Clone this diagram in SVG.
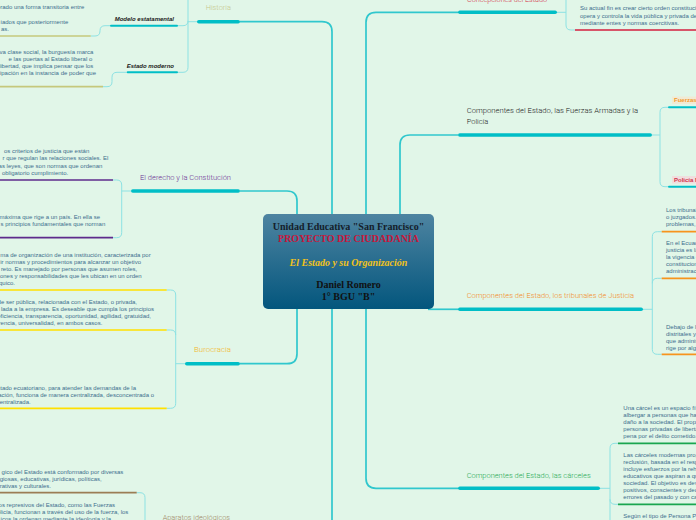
<svg xmlns="http://www.w3.org/2000/svg" width="696" height="520" viewBox="0 0 696 520">
<defs>
<linearGradient id="cg" x1="0" y1="0" x2="0" y2="1">
<stop offset="0" stop-color="#4e84a1"/>
<stop offset="1" stop-color="#03567d"/>
</linearGradient>
<style>
.leaf{font-family:"Liberation Sans",Arial,sans-serif;font-size:6px;fill:#3d6e8e}
.le{text-anchor:end}
.lbl{font-family:Roboto,"Noto Sans",sans-serif;font-size:7.5px;font-weight:300}
.lbr{text-anchor:end}
.sub{font-family:"Liberation Sans",Arial,sans-serif;font-size:6px;font-weight:bold;font-style:italic;fill:#222;text-anchor:end}
.sub2{font-family:"Liberation Sans",Arial,sans-serif;font-size:6px;font-weight:bold}
.bar{fill:none;stroke:#00bec6;stroke-width:3.6;stroke-linecap:round}
.sbar{fill:none;stroke:#00bec6;stroke-width:2;stroke-linecap:round}
.conn{fill:none;stroke:#30c7cd;stroke-width:1.7}
.lc{fill:none;stroke:#8de2e3;stroke-width:1}
.lb{fill:none;stroke-width:1.7}
.ctr{font-family:"Liberation Serif","Times New Roman",serif;font-size:10px;font-weight:bold;text-anchor:middle}
</style>
</defs>
<rect width="696" height="520" fill="#e1f6e8"/>

<g id="connectors">
<path class="conn" d="M332,214 V31.7 Q332,21.7 322,21.7 H240"/>
<path class="conn" d="M297,214 V201 Q297,191 287,191 H240"/>
<path class="conn" d="M297,309 V353.7 Q297,363.7 287,363.7 H240"/>
<path class="conn" d="M332,309 V525"/>
<path class="conn" d="M366,214 V22.3 Q366,12.3 376,12.3 H458"/>
<path class="conn" d="M400,214 V145 Q400,135 410,135 H458"/>
<path class="conn" d="M428,309.3 H458"/>
<path class="conn" d="M366,309 V478.3 Q366,488.3 376,488.3 H458"/>

<path class="lc" d="M197,21.7 H188 M188,-5 V67.3 Q188,72.3 183,72.3 H178 M178,25.7 H183 Q188,25.7 188,20.7"/>
<path class="lc" d="M110,25.7 H105 Q100,25.7 100,30.7 V31 Q100,36 95,36 H90.7"/>
<path class="lc" d="M126.7,72.3 H117 Q112,72.3 112,77.3 V81.7 Q112,86.7 107,86.7 H103"/>
<path class="lc" d="M131,191 H121.7 M113,180 H116.7 Q121.7,180 121.7,185 V232.7 Q121.7,237.7 116.7,237.7 H113"/>
<path class="lc" d="M185,363.7 H175.7 M166.7,290 H170.7 Q175.7,290 175.7,295 V403.3 Q175.7,408.3 170.7,408.3 H166.7 M166.7,330 H170.7 Q175.7,330 175.7,335"/>
<path class="lc" d="M136.7,492.7 H140 Q145,492.7 145,497.7 V525"/>
<path class="lc" d="M557,12.3 H566 M566,-5 V25 Q566,30 571,30 H575"/>
<path class="lc" d="M652,135 H660 M668,107.3 H665 Q660,107.3 660,112.3 V181.7 Q660,186.7 665,186.7 H668"/>
<path class="lc" d="M643,309.3 H652.3 M661.7,231.7 H657.3 Q652.3,231.7 652.3,236.7 V349.3 Q652.3,354.3 657.3,354.3 H661.7 M661.7,278.3 H657.3 Q652.3,278.3 652.3,283.3"/>
<path class="lc" d="M600,488.3 H610 M618,443.3 H615 Q610,443.3 610,448.3 V525 M618,504.3 H615 Q610,504.3 610,499.3"/>
</g>

<g id="central">
<rect x="263" y="214" width="171" height="95" rx="5" fill="url(#cg)"/>
<text class="ctr" x="348.5" y="229.5" fill="#15202a">Unidad Educativa "San Francisco"</text>
<text class="ctr" x="348.5" y="242" fill="#c8163a">PROYECTO DE CIUDADANÍA</text>
<text class="ctr" x="348.5" y="265.5" fill="#f2c21c" font-style="italic">El Estado y su Organización</text>
<text class="ctr" x="348.5" y="288" fill="#111">Daniel Romero</text>
<text class="ctr" x="348.5" y="300" fill="#111">1° BGU "B"</text>
</g>

<g id="historia">
<text class="lbl lbr" x="231" y="9.8" fill="#c6c88a" textLength="25.3" lengthAdjust="spacingAndGlyphs">Historia</text>
<path class="bar" d="M198.8,21.7 H238.2"/>
</g>
<g id="modelo-estatamental">
<text class="sub" x="174" y="21">Modelo estatamental</text>
<path class="sbar" d="M111,25.7 H177"/>
</g>
<g id="leaf-modelo">
<path class="lb" stroke="#c5c87c" d="M-2,36 H90.7"/>
<text class="leaf le" x="84.3" y="9.3">erado una forma transitoria entre</text>
<text class="leaf le" x="68.3" y="24.3">iados que posteriormente</text>
<text class="leaf le" x="9" y="31">as.</text>
</g>
<g id="estado-moderno">
<text class="sub" x="174" y="67.7">Estado moderno</text>
<path class="sbar" d="M127.7,72.3 H177"/>
</g>
<g id="leaf-estado-moderno">
<path class="lb" stroke="#c5c87c" d="M-2,86.7 H103"/>
<text class="leaf le" x="93.3" y="54.3">va clase social, la burguesía marca</text>
<text class="leaf le" x="92.3" y="61.3">e las puertas al Estado liberal o</text>
<text class="leaf le" x="93.3" y="68.3">libertad, que implica pensar que los</text>
<text class="leaf le" x="96" y="75">ipación en la instancia de poder que</text>
</g>

<g id="derecho">
<text class="lbl lbr" x="231" y="180.2" fill="#6b2f94" textLength="91" lengthAdjust="spacingAndGlyphs">El derecho y la Constitución</text>
<path class="bar" d="M132.8,191 H238.2"/>
</g>
<g id="leaf-derecho-1">
<path class="lb" stroke="#5e2b8c" d="M-2,180 H113"/>
<text class="leaf le" x="89.3" y="153">os criterios de justicia que están</text>
<text class="leaf le" x="108.3" y="160.3">r que regulan las relaciones sociales. El</text>
<text class="leaf le" x="102.3" y="167.7">as leyes, que son normas que ordenan</text>
<text class="leaf le" x="68.3" y="175">obligatorio cumplimiento.</text>
</g>
<g id="leaf-derecho-2">
<path class="lb" stroke="#5e2b8c" d="M-2,237.7 H113"/>
<text class="leaf le" x="100" y="219.3">máxima que rige a un país. En ella se</text>
<text class="leaf le" x="105.3" y="226.3">s principios fundamentales que norman</text>
</g>

<g id="burocracia">
<text class="lbl lbr" x="231" y="351.5" fill="#f3b41a" textLength="37" lengthAdjust="spacingAndGlyphs">Burocracia</text>
<path class="bar" d="M186.8,363.7 H238.2"/>
</g>
<g id="leaf-burocracia-1">
<path class="lb" stroke="#ffe000" d="M-2,290 H166.7"/>
<text class="leaf le" x="150.7" y="257.3">ma de organización de una institución, caracterizada por</text>
<text class="leaf le" x="141" y="264.3">ir normas y procedimientos para alcanzar un objetivo</text>
<text class="leaf le" x="137.3" y="271.3">reto. Es manejado por personas que asumen roles,</text>
<text class="leaf le" x="141.7" y="278.3">ones y responsabilidades que les ubican en un orden</text>
<text class="leaf le" x="15" y="285.3">quico.</text>
</g>
<g id="leaf-burocracia-2">
<path class="lb" stroke="#ffe000" d="M-2,330 H166.7"/>
<text class="leaf le" x="137" y="304.3">de ser pública, relacionada con el Estado, o privada,</text>
<text class="leaf le" x="154" y="311.3">lada a la empresa. Es deseable que cumpla los principios</text>
<text class="leaf le" x="151" y="318.3">eficiencia, transparencia, oportunidad, agilidad, gratuidad,</text>
<text class="leaf le" x="102.3" y="325.3">rencia, universalidad, en ambos casos.</text>
</g>
<g id="leaf-burocracia-3">
<path class="lb" stroke="#ffe000" d="M-2,408.3 H166.7"/>
<text class="leaf le" x="136" y="389.7">stado ecuatoriano, para atender las demandas de la</text>
<text class="leaf le" x="154" y="397">ación, funciona de manera centralizada, desconcentrada o</text>
<text class="leaf le" x="30.7" y="404">entralizada.</text>
</g>

<g id="aparatos">
<text class="lbl lbr" x="230" y="519.5" fill="#a08562" textLength="67.3" lengthAdjust="spacingAndGlyphs">Aparatos ideológicos</text>
</g>
<g id="leaf-aparatos-1">
<path class="lb" stroke="#9b7d55" d="M-2,492.7 H136.7"/>
<text class="leaf le" x="123.3" y="474.3">gico del Estado está conformado por diversas</text>
<text class="leaf le" x="101.7" y="481.3">giosas, educativas, jurídicas, políticas,</text>
<text class="leaf le" x="51" y="488.3">rativas y culturales.</text>
</g>
<g id="leaf-aparatos-2">
<text class="leaf le" x="115" y="507">aratos represivos del Estado, como las Fuerzas</text>
<text class="leaf le" x="128.3" y="514">olicía, funcionan a través del uso de la fuerza, los</text>
<text class="leaf le" x="111" y="521">icos la ordenan mediante la ideología y la</text>
</g>

<g id="concepciones">
<text class="lbl" x="467" y="1.5" fill="#d42a45" textLength="80" lengthAdjust="spacingAndGlyphs">Concepciones del Estado</text>
<path class="bar" d="M459.8,12.3 H555.2"/>
</g>
<g id="leaf-concepciones">
<path class="lb" stroke="#d31f3f" d="M575,30 H700"/>
<text class="leaf" x="580" y="10.3">Su actual fin es crear cierto orden constitucional</text>
<text class="leaf" x="580" y="17.7">opera y controla la vida pública y privada de</text>
<text class="leaf" x="580" y="25.3">mediante entes y normas coercitivas.</text>
</g>

<g id="fuerzas-policia">
<text class="lbl" x="466.7" y="112.5" fill="#222" textLength="171.3" lengthAdjust="spacingAndGlyphs">Componentes del Estado, las Fuerzas Armadas y la</text>
<text class="lbl" x="466.7" y="124.2" fill="#222" textLength="21.6" lengthAdjust="spacingAndGlyphs">Policía</text>
<path class="bar" d="M459.8,135 H650.2"/>
</g>
<g id="fuerzas-armadas">
<rect x="672" y="96.5" width="26" height="7.5" fill="#f1ead4"/>
<text class="sub2" x="674" y="102.2" fill="#f39a2e">Fuerzas Armadas</text>
<path class="sbar" d="M669,107.3 H700"/>
</g>
<g id="policia-nacional">
<rect x="672" y="176" width="26" height="7.5" fill="#f0dede"/>
<text class="sub2" x="674" y="181.6" fill="#d2334d">Policía Nacional</text>
<path class="sbar" d="M669,186.7 H700"/>
</g>

<g id="tribunales">
<text class="lbl" x="466.7" y="297.8" fill="#f38b1f" textLength="167.3" lengthAdjust="spacingAndGlyphs">Componentes del Estado, los tribunales de Justicia</text>
<path class="bar" d="M459.8,309.3 H641.2"/>
</g>
<g id="leaf-tribunales-1">
<path class="lb" stroke="#f7941d" d="M661.7,231.7 H700"/>
<text class="leaf" x="666" y="212">Los tribunales</text>
<text class="leaf" x="666" y="219">o juzgados.</text>
<text class="leaf" x="666" y="226">problemas,</text>
</g>
<g id="leaf-tribunales-2">
<path class="lb" stroke="#f7941d" d="M661.7,278.3 H700"/>
<text class="leaf" x="666" y="244.7">En el Ecuador</text>
<text class="leaf" x="666" y="252">justicia es la</text>
<text class="leaf" x="666" y="259">la vigencia de</text>
<text class="leaf" x="666" y="266">constitucionales</text>
<text class="leaf" x="666" y="273">administración</text>
</g>
<g id="leaf-tribunales-3">
<path class="lb" stroke="#f7941d" d="M661.7,354.3 H700"/>
<text class="leaf" x="666" y="328.7">Debajo de la</text>
<text class="leaf" x="666" y="336">distritales y</text>
<text class="leaf" x="666" y="343">que administran</text>
<text class="leaf" x="666" y="350">rige por alguna</text>
</g>

<g id="carceles">
<text class="lbl" x="466.7" y="477.5" fill="#1ea851" textLength="124" lengthAdjust="spacingAndGlyphs">Componentes del Estado, las cárceles</text>
<path class="bar" d="M459.8,488.3 H598.2"/>
</g>
<g id="leaf-carceles-1">
<path class="lb" stroke="#1aa650" d="M618,443.3 H700"/>
<text class="leaf" x="623.3" y="410.3">Una cárcel es un espacio físico</text>
<text class="leaf" x="623.3" y="417.3">albergar a personas que han</text>
<text class="leaf" x="623.3" y="424.3">daño a la sociedad. El propósito</text>
<text class="leaf" x="623.3" y="431.3">personas privadas de libertad</text>
<text class="leaf" x="623.3" y="438.3">pena por el delito cometido.</text>
</g>
<g id="leaf-carceles-2">
<path class="lb" stroke="#1aa650" d="M618,504.3 H700"/>
<text class="leaf" x="623.3" y="457">Las cárceles modernas proponen</text>
<text class="leaf" x="623.3" y="464">reclusión, basada en el respeto</text>
<text class="leaf" x="623.3" y="471">incluye esfuerzos por la rehabilitación</text>
<text class="leaf" x="623.3" y="478">educativos que aspiran a que</text>
<text class="leaf" x="623.3" y="485.3">sociedad. El objetivo es devolver</text>
<text class="leaf" x="623.3" y="492.3">positivos, conscientes y decididos</text>
<text class="leaf" x="623.3" y="499.3">errores del pasado y con capacidad</text>
</g>
<g id="leaf-carceles-3">
<text class="leaf" x="623.3" y="518">Según el tipo de Persona Privada</text>
</g>
</svg>
